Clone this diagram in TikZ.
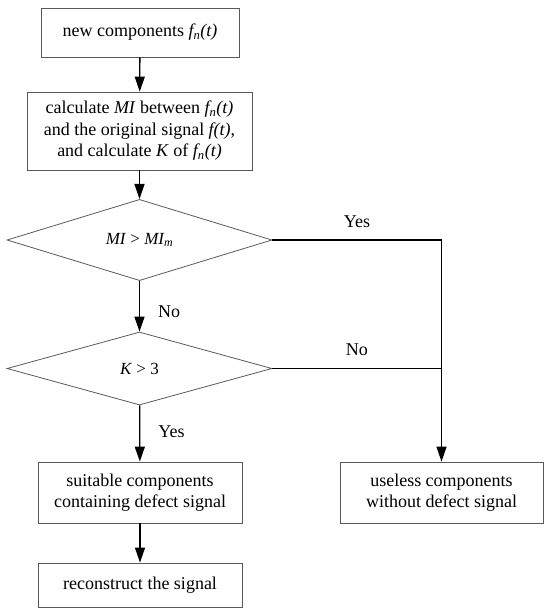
\documentclass[tikz,border=0pt]{standalone}
\usepackage{fontspec}
\setmainfont{Liberation Serif}
\usetikzlibrary{shapes.geometric,arrows.meta}

\begin{document}
\begin{tikzpicture}[x=1pt,y=-1pt,
		box/.style={rectangle,draw=black!65,line width=0.8pt,inner sep=0pt,align=center,font=\fontsize{18}{21.5}\selectfont},
		test/.style={diamond,draw=black!65,line width=0.8pt,inner sep=0pt,minimum width=265pt,font=\fontsize{17}{20}\selectfont},
		link/.style={line width=1.3pt,black},
		arr/.style={link,-{Triangle[length=15pt,width=10pt]}},
		lab/.style={inner sep=0pt,font=\fontsize{18}{21.5}\selectfont}]
		\useasboundingbox (0,0) rectangle (550,615);
		\node[box,minimum width=198pt,minimum height=49pt](new) at (140,32.5){new components \textit{f\textsubscript{n}(t)}};
		\node[box,minimum width=225pt,minimum height=78pt](calc) at (139.5,131){calculate \textit{MI} between \textit{f\textsubscript{n}(t)}\\and the original signal \textit{f(t)},\\and calculate \textit{K} of \textit{f\textsubscript{n}(t)}};
		\node[test,minimum height=74pt](mi) at (139.5,240){\textit{MI} > \textit{MI\textsubscript{m}}};
		\node[test,minimum height=73pt](kurt) at (139.5,368.5){\textit{K} > 3};
		\node[box,minimum width=204pt,minimum height=61pt](suit) at (140,492.5){suitable components\\containing defect signal};
		\node[box,minimum width=203pt,minimum height=61pt](useless) at (441.5,492.5){useless components\\without defect signal};
		\node[box,minimum width=204pt,minimum height=44pt](recon) at (140,585){reconstruct the signal};
		\draw[arr] (new) -- (calc);
		\draw[arr] (calc) -- (mi);
		\draw[arr] (mi) -- node[lab,pos=0.6,anchor=west,xshift=18pt]{No} (kurt);
		\draw[arr] (kurt) -- node[lab,pos=0.47,anchor=west,xshift=18pt]{Yes} (suit);
		\draw[arr] (mi.east) -- node[lab,above=12pt]{Yes} (mi.east -| useless.north) -- (useless.north);
		\draw[link] (kurt.east) -- node[lab,above=12pt]{No} (kurt.east -| useless.north);
		\draw[arr] (suit) -- (recon);
	\end{tikzpicture}
\end{document}
